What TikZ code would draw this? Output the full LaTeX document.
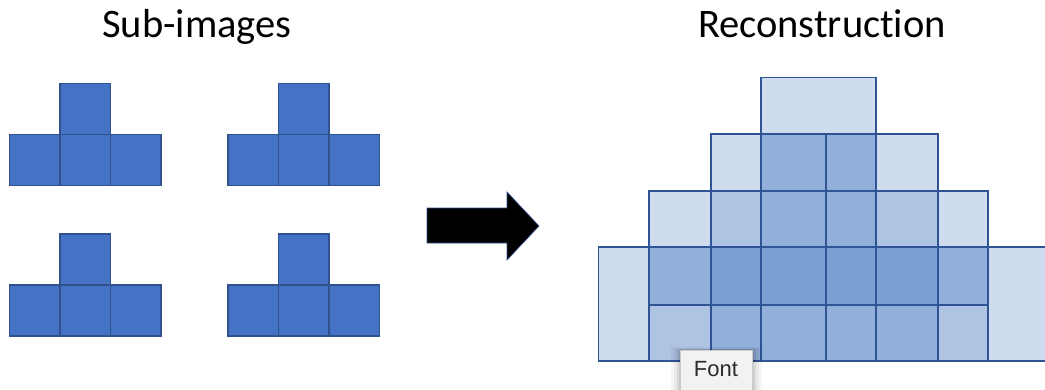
\documentclass[tikz,border=0pt]{standalone}
\usepackage{fontspec}
\setmainfont{Carlito}[Ligatures=NoCommon]
\newfontfamily\tipfont{Liberation Sans}
\definecolor{subfill}{HTML}{4472C4}
\definecolor{subedge}{HTML}{2F528F}
\definecolor{cA}{HTML}{CFDCEF}
\definecolor{cB}{HTML}{AFC3E3}
\definecolor{cC}{HTML}{91AFDA}
\definecolor{cD}{HTML}{7B9FD3}
\definecolor{recedge}{HTML}{2F5496}
\definecolor{tipfill}{HTML}{F2F2F2}
\definecolor{tipedge}{HTML}{CCCCCC}
\definecolor{tiptext}{HTML}{2A2A2A}
\tikzset{
  subsq/.style={fill=subfill,draw=subedge,line width=1.3pt},
  reccell/.style={draw=recedge,line width=1.6pt},
  title/.style={font=\fontsize{40.5}{46}\selectfont,anchor=base,inner sep=0pt},
}
\newcommand{\tshape}[3]{% name, left x, top y
  \begin{scope}[shift={(#2,#3)}]
    \draw[subsq] (50.5,0) rectangle (101,51);
    \draw[subsq] (0,51) rectangle (50.5,102);
    \draw[subsq] (50.5,51) rectangle (101,102);
    \draw[subsq] (101,51) rectangle (151.5,102);
    \coordinate (#1) at (75.75,51);
  \end{scope}}
\newcommand{\rcell}[5]{\draw[reccell,fill=#5] (#1,#2) rectangle (#3,#4);}
\begin{document}
\begin{tikzpicture}[x=1pt,y=-1pt]
\useasboundingbox (0,0) rectangle (1045,389);
% titles
\node[title] (t1) at (197,37.5) {Sub-images};
\node[title] (t2) at (822,37.5) {Reconstruction};
% sub-images
\tshape{s1}{9.5}{83.5}
\tshape{s2}{228}{83.5}
\tshape{s3}{9.5}{234}
\tshape{s4}{228}{234}
% arrow
\draw[fill=black,draw=subedge,line width=0.6pt,line join=miter]
  (427,208) -- (507,208) -- (507,192) -- (539,226) -- (507,260) -- (507,243) -- (427,243) -- cycle;
% reconstruction
\def\Xa{598.3}\def\Xb{649}\def\Xc{710.7}\def\Xd{761}\def\Xe{825.7}
\def\Xf{875.7}\def\Xg{937.7}\def\Xh{987.7}\def\Xi{1058}
\def\Ya{77.3}\def\Yb{134}\def\Yc{190.7}\def\Yd{246.7}\def\Ye{305}\def\Yf{361}
% row 1
\rcell{\Xd}{\Ya}{\Xf}{\Yb}{cA}
% row 2
\rcell{\Xc}{\Yb}{\Xd}{\Yc}{cA}
\rcell{\Xd}{\Yb}{\Xe}{\Yc}{cC}
\rcell{\Xe}{\Yb}{\Xf}{\Yc}{cC}
\rcell{\Xf}{\Yb}{\Xg}{\Yc}{cA}
% row 3
\rcell{\Xb}{\Yc}{\Xc}{\Yd}{cA}
\rcell{\Xc}{\Yc}{\Xd}{\Yd}{cB}
\rcell{\Xd}{\Yc}{\Xe}{\Yd}{cC}
\rcell{\Xe}{\Yc}{\Xf}{\Yd}{cC}
\rcell{\Xf}{\Yc}{\Xg}{\Yd}{cB}
\rcell{\Xg}{\Yc}{\Xh}{\Yd}{cA}
% rows 4-5
\rcell{\Xa}{\Yd}{\Xb}{\Yf}{cA}
\rcell{\Xh}{\Yd}{\Xi}{\Yf}{cA}
\rcell{\Xb}{\Yd}{\Xc}{\Ye}{cC}
\rcell{\Xc}{\Yd}{\Xd}{\Ye}{cD}
\rcell{\Xd}{\Yd}{\Xe}{\Ye}{cD}
\rcell{\Xe}{\Yd}{\Xf}{\Ye}{cD}
\rcell{\Xf}{\Yd}{\Xg}{\Ye}{cD}
\rcell{\Xg}{\Yd}{\Xh}{\Ye}{cC}
\rcell{\Xb}{\Ye}{\Xc}{\Yf}{cB}
\rcell{\Xc}{\Ye}{\Xd}{\Yf}{cC}
\rcell{\Xd}{\Ye}{\Xe}{\Yf}{cC}
\rcell{\Xe}{\Ye}{\Xf}{\Yf}{cC}
\rcell{\Xf}{\Ye}{\Xg}{\Yf}{cC}
\rcell{\Xg}{\Ye}{\Xh}{\Yf}{cB}
% tooltip
\foreach \d/\o in {10/0.04,7/0.05,4/0.07,2/0.08}{
  \fill[black,opacity=\o] (680.7-\d,350-\d*0.3) rectangle (752.3+\d,395);
}
\draw[fill=tipfill,draw=tipedge,line width=0.8pt] (680.7,350) rectangle (752.3,395);
\node[font=\tipfont\fontsize{22}{26}\selectfont,text=tiptext,anchor=base,inner sep=0pt] (tip) at (716,376.7) {Font};
\end{tikzpicture}
\end{document}
